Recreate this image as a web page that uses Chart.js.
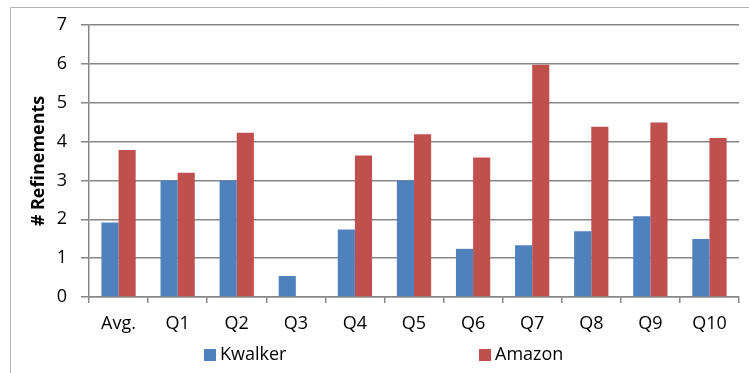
<!DOCTYPE html>
<html>
<head>
<meta charset="utf-8">
<script src="https://cdn.jsdelivr.net/npm/chart.js@4/dist/chart.umd.min.js"></script>
<style>
  html, body { margin: 0; padding: 0; background: #ffffff; }
  #wrap { width: 749px; height: 373px; position: relative; }
</style>
</head>
<body>
<div id="wrap"><canvas id="c" width="749" height="373"></canvas></div>
<script>
// Refinement counts per query, for both systems
const categories = ['Avg.', 'Q1', 'Q2', 'Q3', 'Q4', 'Q5', 'Q6', 'Q7', 'Q8', 'Q9', 'Q10'];
const kwalker = [1.92, 3.0, 3.0, 0.54, 1.74, 3.0, 1.24, 1.33, 1.69, 2.08, 1.49];
const amazon  = [3.78, 3.2, 4.23, 0, 3.64, 4.19, 3.59, 5.98, 4.38, 4.49, 4.09];
const yTicks = [0, 1, 2, 3, 4, 5, 6, 7];

const FONT = '"Open Sans", "Liberation Sans", sans-serif';
const gridGray = '#878787';

// Light frame around the chart plus a spaced-out legend row at the bottom
const framePlugin = {
  id: 'frameAndLegend',
  afterDraw(chart) {
    const ctx = chart.ctx;
    ctx.save();
    ctx.strokeStyle = '#b4b4b4';
    ctx.lineWidth = 1;
    ctx.beginPath();
    ctx.moveTo(10.5, chart.height);
    ctx.lineTo(10.5, 7.5);
    ctx.lineTo(chart.width, 7.5);
    ctx.stroke();

    const slots = [204, 479];
    ctx.font = '18px ' + FONT;
    ctx.textBaseline = 'middle';
    chart.data.datasets.forEach((ds, i) => {
      const x = slots[i];
      ctx.fillStyle = ds.backgroundColor;
      ctx.fillRect(x, 349, 12, 12);
      ctx.fillStyle = '#000';
      ctx.fillText(ds.label, x + 16, 355);
    });
    ctx.restore();
  }
};

new Chart(document.getElementById('c'), {
  type: 'bar',
  data: {
    labels: categories,
    datasets: [
      { label: 'Kwalker', data: kwalker, backgroundColor: '#4F81BD', borderWidth: 0 },
      { label: 'Amazon',  data: amazon,  backgroundColor: '#C0504D', borderWidth: 0 }
    ]
  },
  options: {
    responsive: false,
    animation: false,
    devicePixelRatio: 1,
    layout: { padding: { top: 25, right: 10, left: 0, bottom: 0 } },
    datasets: { bar: { categoryPercentage: 0.58, barPercentage: 1.0 } },
    plugins: {
      legend: { display: false },
      tooltip: { enabled: false }
    },
    scales: {
      x: {
        afterFit(s) { s.height = 76; },
        grid: {
          offset: true,
          drawOnChartArea: false,
          color: gridGray,
          lineWidth: 1.5,
          tickLength: 6
        },
        border: { color: gridGray, width: 1.5 },
        ticks: {
          color: '#000',
          padding: 10,
          font: { family: FONT, size: 18 }
        }
      },
      y: {
        min: 0,
        max: 7,
        afterFit(s) { s.width = 89; },
        afterBuildTicks(s) { s.ticks = yTicks.map(v => ({ value: v })); },
        grid: {
          color: gridGray,
          lineWidth: 1.5,
          tickLength: 8
        },
        border: { color: gridGray, width: 1.5 },
        ticks: {
          color: '#000',
          padding: 14,
          font: { family: FONT, size: 18 }
        },
        title: {
          display: true,
          text: '# Refinements',
          color: '#000',
          padding: { top: 28, bottom: 0 },
          font: { family: FONT, size: 18, weight: 'bold' }
        }
      }
    }
  },
  plugins: [framePlugin]
});
</script>
</body>
</html>
